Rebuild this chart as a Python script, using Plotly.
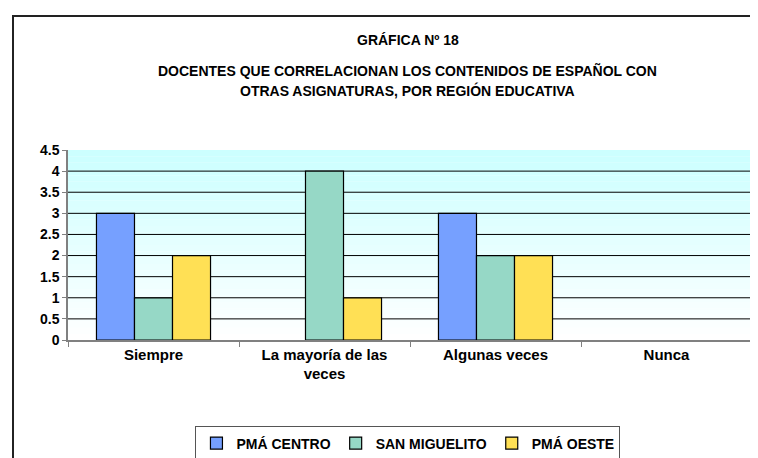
import plotly.graph_objects as go

categories = ["Siempre", "La mayoría de las veces", "Algunas veces", "Nunca"]
tick_labels = ["Siempre", "La mayoría de las<br>veces", "Algunas veces", "Nunca"]
series_names = ["PMÁ CENTRO", "SAN MIGUELITO", "PMÁ OESTE"]
pma_centro = [3, 0, 3, 0]
san_miguelito = [1, 4, 2, 0]
pma_oeste = [2, 1, 2, 0]
y_ticks = [0, 0.5, 1, 1.5, 2, 2.5, 3, 3.5, 4, 4.5]

colors = ["#76A0FF", "#96D8C6", "#FFE055"]

FONT = "Liberation Sans, Arial, sans-serif"

fig = go.Figure()
for name, vals, c in zip(series_names, [pma_centro, san_miguelito, pma_oeste], colors):
    fig.add_trace(go.Bar(
        name=name, x=categories, y=vals,
        marker=dict(color=c, line=dict(color="#000000",
                                       width=[1.2 if v else 0 for v in vals])),
    ))

# gradient plot background (light cyan to white)
n = 30
shapes = []
top = (204, 255, 255)
bot = (255, 255, 255)
for i in range(n):
    t = i / (n - 1)
    r = int(bot[0] + (top[0] - bot[0]) * t)
    g = int(bot[1] + (top[1] - bot[1]) * t)
    b = int(bot[2] + (top[2] - bot[2]) * t)
    shapes.append(dict(type="rect", xref="x domain", yref="y domain",
                       x0=0, x1=1, y0=i / n, y1=(i + 1) / n,
                       fillcolor=f"rgb({r},{g},{b})", line=dict(width=0),
                       layer="below"))
# horizontal gridlines (interior ticks only, no line at the top edge)
for v in y_ticks[1:-1]:
    shapes.append(dict(type="line", xref="x domain", yref="y", x0=0, x1=1, y0=v, y1=v,
                       line=dict(color="#000000", width=1), layer="below"))
# plot area right border
shapes.append(dict(type="line", xref="paper", yref="paper", x0=1, x1=1, y0=0, y1=1,
                   line=dict(color="#808080", width=1.5)))
# outer chart border
shapes.append(dict(type="rect", xref="paper", yref="paper",
                   x0=-0.0804, x1=1.1, y0=-0.8, y1=1.705,
                   line=dict(color="#222222", width=2), fillcolor="rgba(0,0,0,0)"))

fig.update_layout(
    width=758, height=458,
    margin=dict(l=60, r=14, t=142, b=126, autoexpand=False),
    paper_bgcolor="white",
    plot_bgcolor="rgba(0,0,0,0)",
    barmode="group",
    bargap=0.333,
    bargroupgap=0,
    font=dict(family=FONT, size=13, color="#000000"),
    showlegend=True,
    legend=dict(orientation="h", x=0.497, xanchor="center", y=-0.455, yanchor="top",
                font=dict(family=FONT, size=14, color="#000000", weight="bold"),
                bordercolor="#555555", borderwidth=1, bgcolor="white",
                itemwidth=30, traceorder="normal"),
    shapes=shapes,
    annotations=[
        dict(text="<b>GRÁFICA Nº 18</b>", xref="paper", yref="paper", x=0.497, y=(340 - 40) / 190,
             showarrow=False, font=dict(family=FONT, size=14), xanchor="center", yanchor="middle"),
        dict(text="<b>DOCENTES QUE CORRELACIONAN LOS CONTENIDOS DE ESPAÑOL CON</b>", xref="paper", yref="paper",
             x=0.497, y=(340 - 70) / 190, showarrow=False, font=dict(family=FONT, size=14),
             xanchor="center", yanchor="middle"),
        dict(text="<b>OTRAS ASIGNATURAS, POR REGIÓN EDUCATIVA</b>", xref="paper", yref="paper",
             x=0.497, y=(340 - 91) / 190, showarrow=False, font=dict(family=FONT, size=14),
             xanchor="center", yanchor="middle"),
    ],
)

fig.update_xaxes(
    tickmode="array", tickvals=categories, ticktext=tick_labels,
    tickfont=dict(family=FONT, size=15, color="#000000", weight="bold"),
    showline=True, linecolor="#808080", linewidth=1.5,
    ticks="outside", tickson="boundaries", ticklen=5, tickcolor="#808080",
    showgrid=False,
)
fig.update_yaxes(
    range=[0, 4.5], tickmode="array", tickvals=y_ticks,
    ticktext=[f"{v:g}" for v in y_ticks],
    tickfont=dict(family=FONT, size=14, color="#000000", weight="bold"),
    showline=True, linecolor="#808080", linewidth=1.5,
    ticks="outside", ticklen=4, tickcolor="#808080",
    showgrid=False, zeroline=False,
)

fig.write_html("out.html")
